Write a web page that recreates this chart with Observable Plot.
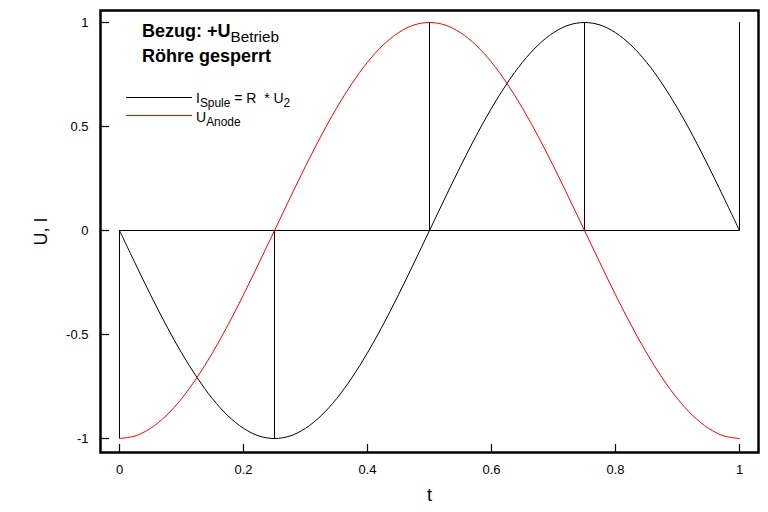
<!DOCTYPE html>
<html>
<head>
<meta charset="utf-8">
<script src="https://cdn.jsdelivr.net/npm/d3@7"></script>
<script src="https://cdn.jsdelivr.net/npm/@observablehq/plot@0.6"></script>
<style>
  html, body { margin: 0; padding: 0; background: #fff; }
  #wrap { position: relative; width: 768px; height: 512px; font-family: "Liberation Sans", Arial, sans-serif; }
  .ann { position: absolute; color: #000; white-space: nowrap; line-height: 1; }
  .ann sub { font-size: 0.85em; vertical-align: -0.35em; line-height: 0; }
  .leg { position: absolute; height: 0; border-top: 1px solid; }
</style>
</head>
<body>
<div id="wrap"></div>
<script>
// Sample times
const t = [0,0.025,0.05,0.075,0.1,0.125,0.15,0.175,0.2,0.225,0.25,0.275,0.3,0.325,0.35,0.375,0.4,0.425,0.45,0.475,0.5,0.525,0.55,0.575,0.6,0.625,0.65,0.675,0.7,0.725,0.75,0.775,0.8,0.825,0.85,0.875,0.9,0.925,0.95,0.975,1];
// I_Spule = R * U_2 (black)
const iSpule = [0,-0.156,-0.309,-0.454,-0.588,-0.707,-0.809,-0.891,-0.951,-0.988,-1,-0.988,-0.951,-0.891,-0.809,-0.707,-0.588,-0.454,-0.309,-0.156,0,0.156,0.309,0.454,0.588,0.707,0.809,0.891,0.951,0.988,1,0.988,0.951,0.891,0.809,0.707,0.588,0.454,0.309,0.156,0];
// U_Anode (red)
const uAnode = [-1,-0.988,-0.951,-0.891,-0.809,-0.707,-0.588,-0.454,-0.309,-0.156,0,0.156,0.309,0.454,0.588,0.707,0.809,0.891,0.951,0.988,1,0.988,0.951,0.891,0.809,0.707,0.588,0.454,0.309,0.156,0,-0.156,-0.309,-0.454,-0.588,-0.707,-0.809,-0.891,-0.951,-0.988,-1];
// Vertical marker lines (from 0 to value)
const markT = [0, 0.25, 0.5, 0.75, 1];
const markV = [-1, -1, 1, 1, 1];
// Tick labels
const xTicks = [0, 0.2, 0.4, 0.6, 0.8, 1];
const yTicks = [-1, -0.5, 0, 0.5, 1];

const curveData = t.map((d, i) => ({t: d, i: iSpule[i], u: uAnode[i]}));
const marks = markT.map((d, i) => ({t: d, v: markV[i]}));

const fmt = d => String(d);
const W = 768, H = 512, ML = 100, MR = 10, MT = 10, MB = 60;
const xDom = [-0.030645, 1.030645];
const yDom = [-1.06731, 1.05769];
// inward tick length in scale units (9 px of the plot area)
const xTickLen = 9 * (xDom[1] - xDom[0]) / (W - ML - MR);
const yTickLen = 8 * (yDom[1] - yDom[0]) / (H - MT - MB);

const chart = Plot.plot({
  width: W,
  height: H,
  marginLeft: ML,
  marginRight: MR,
  marginTop: MT,
  marginBottom: MB,
  style: {fontFamily: "'Liberation Sans', Arial, sans-serif", fontSize: "12px", background: "#fff"},
  x: {domain: xDom},
  y: {domain: yDom},
  marks: [
    Plot.axisX({ticks: xTicks, tickFormat: fmt, tickSize: 0, tickPadding: 12, fontSize: 13, label: "t", labelAnchor: "center", labelArrow: "none", labelOffset: 48}),
    Plot.axisY({ticks: yTicks, tickFormat: fmt, tickSize: 0, tickPadding: 12, fontSize: 13, label: "U, I", labelAnchor: "center", labelArrow: "none", labelOffset: 66}),
    // inward tick marks
    Plot.ruleY(yTicks, {y: d => d, x1: xDom[0], x2: xDom[0] + xTickLen, stroke: "#000", strokeWidth: 1.2}),
    Plot.ruleX(xTicks, {x: d => d, y1: yDom[0], y2: yDom[0] + yTickLen, stroke: "#000", strokeWidth: 1.2}),
    Plot.ruleY([0], {x1: 0, x2: 1, stroke: "#000", strokeWidth: 1}),
    Plot.ruleX(marks, {x: "t", y1: 0, y2: "v", stroke: "#000", strokeWidth: 1}),
    Plot.line(curveData, {x: "t", y: "u", stroke: "#f00", strokeWidth: 1, curve: "catmull-rom"}),
    Plot.line(curveData, {x: "t", y: "i", stroke: "#000", strokeWidth: 1, curve: "catmull-rom"}),
    Plot.frame({stroke: "#000", strokeWidth: 2.5})
  ]
});

const wrap = document.getElementById("wrap");
wrap.appendChild(chart);

// style axis labels bigger
chart.querySelectorAll("[aria-label='x-axis label'] text, [aria-label='y-axis label'] text").forEach(el => {
  el.setAttribute("font-size", "18");
  el.style.fontSize = "18px";
});

function addDiv(html, left, top, size, weight) {
  const d = document.createElement("div");
  d.className = "ann";
  d.innerHTML = html;
  d.style.left = left + "px";
  d.style.top = top + "px";
  d.style.fontSize = size + "px";
  d.style.fontWeight = weight || "normal";
  wrap.appendChild(d);
}
function addLine(left, top, w, color) {
  const d = document.createElement("div");
  d.className = "leg";
  d.style.left = left + "px";
  d.style.top = top + "px";
  d.style.width = w + "px";
  d.style.borderTopColor = color;
  wrap.appendChild(d);
}
addDiv("Bezug: +U<sub style='font-weight:normal'>Betrieb</sub>", 142, 22, 18, "bold");
addDiv("Röhre gesperrt", 142, 47, 18, "bold");
addLine(126, 97, 66, "#000");
addLine(126, 115, 66, "#f00");
addDiv("I<sub>Spule</sub> = R&nbsp; * U<sub>2</sub>", 196, 91, 14);
addDiv("U<sub>Anode</sub>", 196, 110, 14);
</script>
</body>
</html>
